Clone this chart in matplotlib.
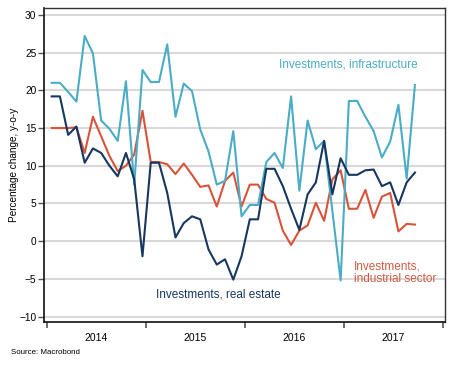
import numpy as np
import matplotlib.pyplot as plt

# monthly y-o-y changes, Jan 2014 .. Sep 2017
months = np.arange(45)
infrastructure = [21.0, 21.0, 19.8, 18.5, 27.2, 24.9, 16.0, 14.9, 13.3, 21.2,
                  7.5, 22.7, 21.1, 21.1, 26.1, 16.5, 20.9, 19.9, 14.8, 11.9,
                  7.5, 8.0, 14.6, 3.3, 4.8, 4.8, 10.5, 11.7, 9.7, 19.2,
                  6.7, 16.0, 12.2, 13.3, 4.0, -5.2, 18.6, 18.6, 16.5, 14.6,
                  11.1, 13.2, 18.1, 8.3, 20.7]
real_estate = [19.2, 19.2, 14.1, 15.2, 10.4, 12.3, 11.7, 10.0, 8.6, 11.7,
               8.2, -2.0, 10.4, 10.4, 6.4, 0.5, 2.4, 3.3, 2.9, -1.1,
               -3.1, -2.4, -5.1, -2.0, 2.9, 2.9, 9.6, 9.6, 7.3, 4.3,
               1.5, 6.2, 7.8, 13.3, 6.2, 11.0, 8.8, 8.8, 9.4, 9.5,
               7.3, 7.8, 4.8, 7.8, 9.1]
industrial = [15.0, 15.0, 15.0, 15.1, 11.7, 16.5, 13.9, 11.3, 9.3, 10.0,
              11.5, 17.3, 10.5, 10.5, 10.2, 8.9, 10.3, 8.8, 7.2, 7.4,
              4.6, 8.0, 9.1, 4.6, 7.5, 7.5, 5.6, 5.1, 1.4, -0.5,
              1.4, 2.1, 5.1, 2.7, 8.2, 9.4, 4.3, 4.3, 6.8, 3.1,
              5.9, 6.4, 1.3, 2.3, 2.2]
years = [2014, 2015, 2016, 2017]

x = 2014 + (months + 0.6) / 12

c_inf = '#4bacc6'
c_re = '#17375e'
c_ind = '#d9533b'

plt.rcParams['font.family'] = ['Liberation Sans', 'DejaVu Sans']

fig = plt.figure(figsize=(4.6, 3.7), dpi=100)
ax = fig.add_axes([0.0957, 0.130, 0.871, 0.848])

ax.plot(x, industrial, color=c_ind, lw=1.5, zorder=3)
ax.plot(x, infrastructure, color=c_inf, lw=1.5, zorder=4)
ax.plot(x, real_estate, color=c_re, lw=1.5, zorder=5)

ax.set_xlim(2013.973, 2018.017)
ax.set_ylim(-10.7, 30.9)
ax.set_yticks(range(-10, 31, 5))
ax.yaxis.grid(True, color='#d9d9d9', lw=1.5)
ax.set_axisbelow(True)

ax.set_xticks(range(2014, 2019))
ax.set_xticklabels([])
ax.set_xticks([y + 0.5 for y in years], minor=True)
ax.set_xticklabels([str(y) for y in years], minor=True)
ax.tick_params(axis='x', which='major', direction='out', length=4.5, width=1.2, color='#555555')
ax.tick_params(axis='x', which='minor', length=0, pad=8, labelsize=7.5)
ax.tick_params(axis='y', direction='out', length=4, width=1, pad=1.5, labelsize=7.3, color='#555555')

for s in ['left', 'bottom']:
    ax.spines[s].set_color('#111111')
    ax.spines[s].set_linewidth(1.2)
for s in ['top', 'right']:
    ax.spines[s].set_color('#333333')
    ax.spines[s].set_linewidth(1.0)

ax.set_ylabel('Percentage change, y-o-y', fontsize=7.2, labelpad=0.5)

ax.text(2016.346, 23.4, 'Investments, infrastructure', color=c_inf, fontsize=8.5, va='center', ha='left')
ax.text(2015.10, -7.1, 'Investments, real estate', color=c_re, fontsize=8.5, va='center', ha='left')
ax.text(2017.097, -4.2, 'Investments,\nindustrial sector', color='#cf5a45', fontsize=8.5,
        va='center', ha='left', linespacing=1.1)

fig.text(11 / 460, 1 - 353 / 370, 'Source: Macrobond', fontsize=5.7, va='center', ha='left')

fig.savefig('out.png', dpi=100)
